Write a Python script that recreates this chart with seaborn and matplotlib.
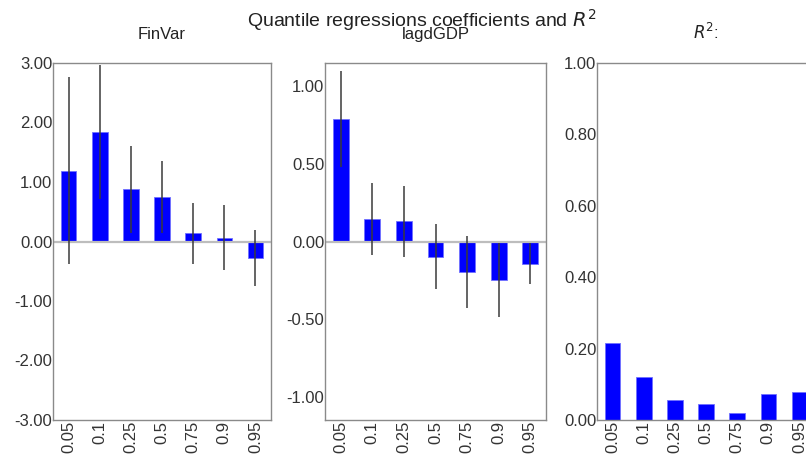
import numpy as np
import matplotlib
matplotlib.use("Agg")
import matplotlib.pyplot as plt
import seaborn as sns

sns.set_theme(style="white")
plt.rcParams["font.family"] = ["Liberation Sans", "DejaVu Sans"]

# quantiles on the x axis
quantiles = ["0.05", "0.1", "0.25", "0.5", "0.75", "0.9", "0.95"]

# FinVar coefficient and half-width of its interval
finvar_coef = [1.19, 1.84, 0.875, 0.75, 0.14, 0.067, -0.28]
finvar_err = [1.57, 1.13, 0.73, 0.60, 0.51, 0.55, 0.47]

# lagdGDP coefficient and half-width of its interval
gdp_coef = [0.789, 0.144, 0.129, -0.099, -0.196, -0.247, -0.142]
gdp_err = [0.31, 0.234, 0.227, 0.21, 0.23, 0.24, 0.13]

# pseudo R^2 per quantile
r2 = [0.217, 0.121, 0.056, 0.044, 0.019, 0.073, 0.079]

BLUE = "#0000ff"
SPINE = "#8a8a8a"


def style_axis(ax, ylim, yticks, title):
    ax.set_ylim(*ylim)
    ax.set_xlim(-0.5, len(quantiles) - 0.5)
    ax.set_yticks(yticks)
    ax.set_yticklabels([f"{t:.2f}" for t in yticks], fontsize=12, color="#333333")
    ax.set_xticks(range(len(quantiles)))
    ax.set_xticklabels(quantiles, rotation=90, fontsize=12, color="#333333")
    ax.tick_params(axis="both", length=0, pad=0.5)
    ax.set_xlabel("")
    ax.set_ylabel("")
    for sp in ax.spines.values():
        sp.set_color(SPINE)
        sp.set_linewidth(1.0)
    ax.set_title(title, fontsize=12, pad=17, color="#222222")


def coef_panel(ax, coef, err, ylim, yticks, title):
    sns.barplot(x=quantiles, y=coef, color=BLUE, width=0.5, saturation=1,
                edgecolor="#7070ff", linewidth=0.6, ax=ax)
    ax.axhline(0, color="#bdbdbd", lw=1.6, zorder=1)
    pos = np.arange(len(quantiles))
    lo = np.array(coef) - np.array(err)
    hi = np.array(coef) + np.array(err)
    ax.vlines(pos, lo, hi, color="#3a3a3a", lw=1.1, zorder=4)
    style_axis(ax, ylim, yticks, title)


fig = plt.figure(figsize=(8.06, 4.63), dpi=100)
W, H = 806, 463
ax1 = fig.add_axes([53 / W, 43 / H, 218 / W, 357 / H])
ax2 = fig.add_axes([325 / W, 43 / H, 221 / W, 357 / H])
ax3 = fig.add_axes([597 / W, 43 / H, 218 / W, 357 / H])

coef_panel(ax1, finvar_coef, finvar_err, (-3, 3), [-3, -2, -1, 0, 1, 2, 3], "FinVar")
coef_panel(ax2, gdp_coef, gdp_err, (-1.15, 1.15), [-1, -0.5, 0, 0.5, 1], "lagdGDP")

sns.barplot(x=quantiles, y=r2, color=BLUE, width=0.5, saturation=1,
            edgecolor="#7070ff", linewidth=0.6, ax=ax3)
style_axis(ax3, (0, 1), [0, 0.2, 0.4, 0.6, 0.8, 1.0], "$R^2$:")

fig.suptitle("Quantile regressions coefficients and $R^2$", x=422 / W, y=0.985,
             fontsize=14, color="#222222")

fig.savefig("out.png", dpi=100)
